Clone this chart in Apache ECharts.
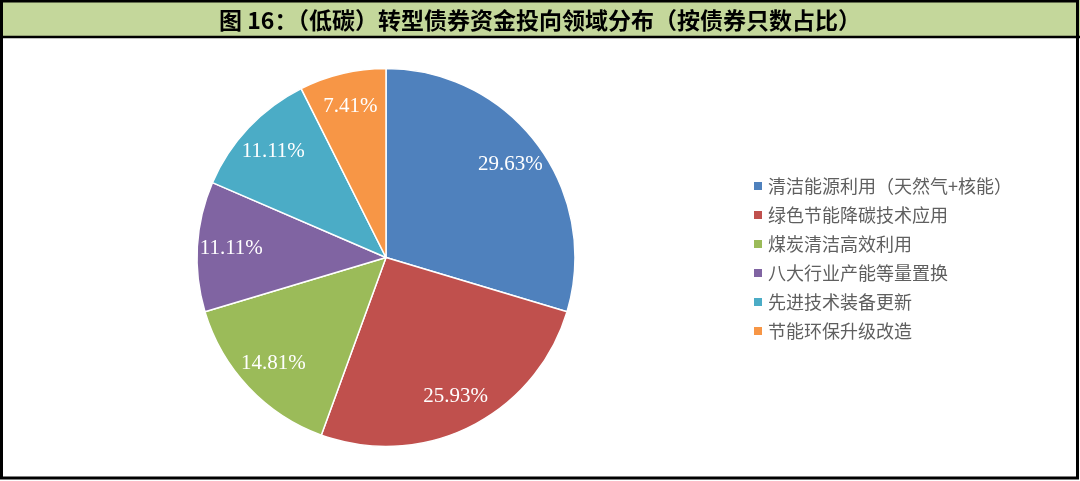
<!DOCTYPE html>
<html>
<head>
<meta charset="utf-8">
<script src="https://cdn.jsdelivr.net/npm/echarts@6/dist/echarts.min.js"></script>
<style>
html,body{margin:0;padding:0;background:#fff;}
#c{width:1080px;height:481px;}
</style>
</head>
<body>
<div id="c"></div>
<script>
const titleText = '图 16：（低碳）转型债券资金投向领域分布（按债券只数占比）';
const categories = ['清洁能源利用（天然气+核能）','绿色节能降碳技术应用','煤炭清洁高效利用','八大行业产能等量置换','先进技术装备更新','节能环保升级改造'];
const counts = [8, 7, 4, 3, 3, 2];
const colors = ['#4f81bd','#c0504d','#9bbb59','#8064a2','#4bacc6','#f79646'];

const chart = echarts.init(document.getElementById('c'), null, {renderer:'canvas'});
const data = categories.map((n,i)=>({name:n, value:counts[i]}));
chart.setOption({
  animation:false,
  color: colors,
  title:{
    text:titleText, left:'center', top:4,
    textStyle:{fontFamily:'"Noto Sans CJK SC"', fontWeight:'bold', fontSize:23, color:'#000'}
  },
  graphic:[
    {type:'rect', z:-1, shape:{x:0,y:0,width:1080,height:37}, style:{fill:'#c4d79b'}},
    {type:'rect', z:10, shape:{x:1.5,y:1,width:1076,height:477}, style:{fill:'none', stroke:'#000', lineWidth:3}},
    {type:'line', z:10, shape:{x1:0,y1:37,x2:1080,y2:37}, style:{stroke:'#000', lineWidth:2.5}}
  ],
  legend:{
    orient:'vertical', left:747, top:172,
    itemWidth:10, itemHeight:10, itemGap:11,
    icon:'rect',
    data:categories,
    textStyle:{fontFamily:'"Noto Sans CJK SC"', fontSize:18, color:'#5f5f5f', lineHeight:18}
  },
  series:[
    {
      type:'pie', center:[386,257.5], radius:[0,189], startAngle:90, clockwise:true,
      data:data, label:{show:false}, labelLine:{show:false},
      itemStyle:{borderColor:'#fff', borderWidth:1.5}
    },
    {
      type:'pie', center:[386,257.5], radius:[115,189], startAngle:90, clockwise:true, silent:true,
      data:data, percentPrecision:2,
      itemStyle:{color:'rgba(0,0,0,0)'},
      label:{show:true, position:'inside', formatter:'{d}%', color:'#fff',
        fontFamily:'"Liberation Serif"', fontSize:21},
      labelLine:{show:false}
    }
  ]
});
</script>
</body>
</html>
